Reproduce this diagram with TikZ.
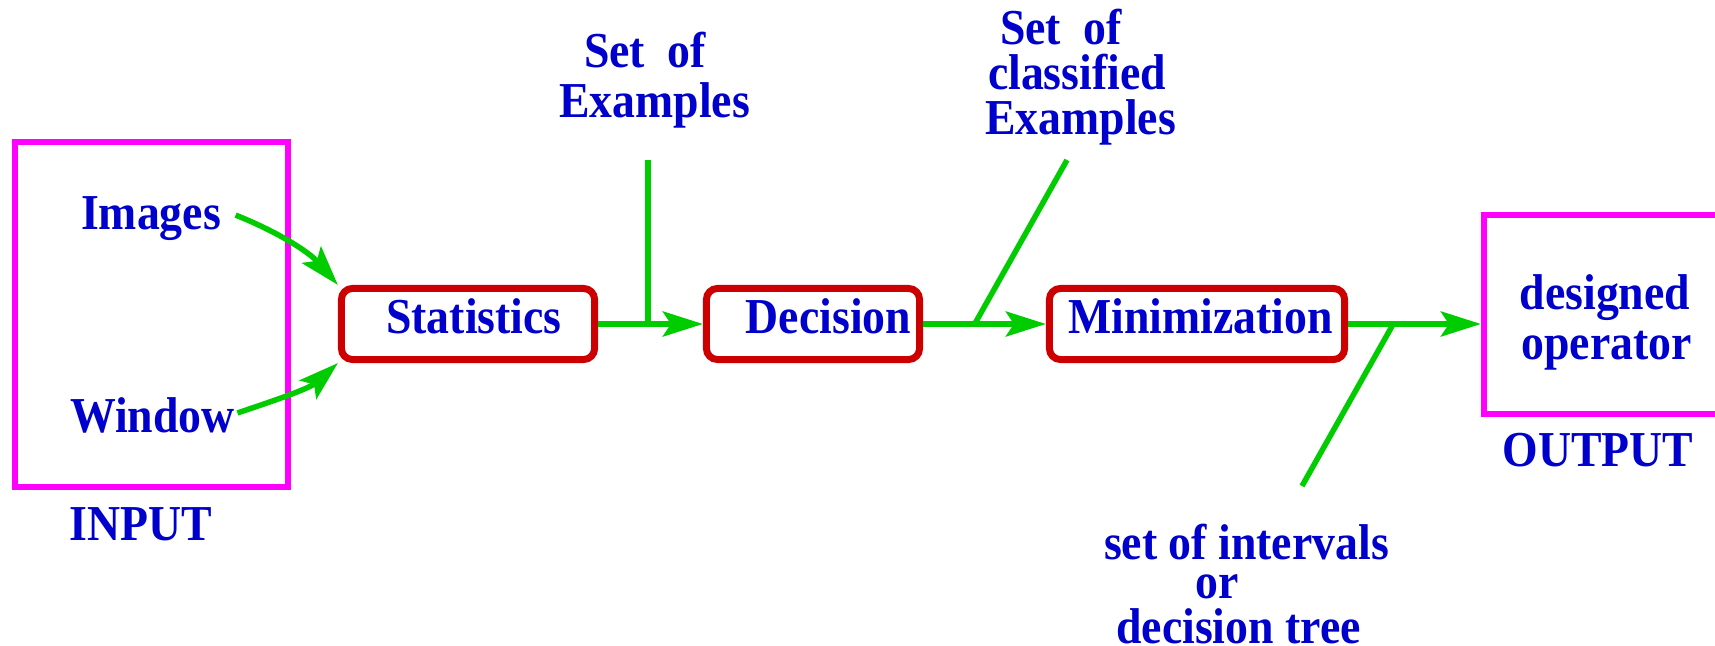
\documentclass[tikz,border=0pt]{standalone}
\usepackage{fontspec}
\setmainfont{Liberation Serif}[BoldFont={Liberation Serif Bold},FakeStretch=0.91]
\usetikzlibrary{arrows.meta,calc}
\definecolor{tblue}{RGB}{0,0,204}
\definecolor{tgreen}{RGB}{0,204,0}
\definecolor{tred}{RGB}{204,0,0}
\definecolor{tmag}{RGB}{255,0,255}
\newcommand\dfont{\fontsize{14.3pt}{16pt}\selectfont\bfseries}
\begin{document}
\begin{tikzpicture}[x=0.01cm,y=-0.01cm,
  lbl/.style={text=tblue,font=\dfont,inner sep=0pt,anchor=base},
  proc/.style={draw=tred,line width=0.07cm,rounded corners=0.11cm,text=tblue,font=\dfont,
    inner sep=0pt,text height=0.33cm,text depth=0.15cm,minimum height=0.71cm},
  io/.style={draw=tmag,line width=0.06cm,inner sep=0pt},
  flow/.style={draw=tgreen,line width=0.055cm,-{Stealth[length=0.4cm,width=0.25cm,inset=0.08cm]}},
  feed/.style={draw=tgreen,line width=0.055cm}]
\useasboundingbox (0,0) rectangle (1715,646);
\clip (0,0) rectangle (1715,646);
% input
\node[io, minimum width=2.73cm, minimum height=3.45cm] (inbox) at (151.5,314.5) {};
\node[lbl] (img) at (151,230) {Images};
\node[lbl] (win) at (152.5,433) {Window};
\node[lbl] (inlbl) at (141,541) {INPUT};
% process boxes
\node[proc, minimum width=2.53cm] (stat) at (468,324) {\hspace*{0.12cm}Statistics};
\node[proc, minimum width=2.13cm] (dec) at (813,324) {\hspace*{0.31cm}Decision};
\node[proc, minimum width=2.95cm] (min) at (1197,324) {\hspace*{0.07cm}Minimization};
% output
\node[io, minimum width=2.46cm, minimum height=1.99cm] (out) at (1607,314.5) {};
\node[lbl] (des) at (1605,310) {designed};
\node[lbl] (op) at (1606.5,360) {operator};
\node[lbl] (outlbl) at (1598,467) {OUTPUT};
% labels
\node[lbl] (ex1a) at (645,68) {Set\ \ of};
\node[lbl] (ex1b) at (654.5,118) {Examples};
\node[lbl] (ex2a) at (1061,45) {Set\ \ of};
\node[lbl] (ex2b) at (1077,90) {classified};
\node[lbl] (ex2c) at (1080.5,135) {Examples};
\node[lbl] (iv1) at (1246.5,560) {set of intervals};
\node[lbl] (iv2) at (1217.5,598) {or};
\node[lbl] (iv3) at (1238.5,643) {decision tree};
% free ends
\coordinate (se) at (648,160);
\coordinate (ce) at (1067,160);
\coordinate (ie) at (1302,486);
% connectors
\draw[flow] ($(img.east)+(14,-4)$) .. controls +(45,18) and +(-28,-32) .. (stat.north west);
\draw[flow] ($(win.east)+(2,-3)$) .. controls +(45,-15) and +(-28,25) .. (stat.south west);
\draw[flow] (stat.east) -- (dec.west);
\draw[flow] (dec.east) -- (min.west);
\draw[flow] (min.east) -- (min.east -| out.west);
\draw[feed] (se) -- (se |- stat.east);
\draw[feed] (ce) -- ($(dec.east)!0.42!(min.west)$);
\draw[feed] (ie) -- ($(min.east)!0.34!(min.east -| out.west)$);
\end{tikzpicture}
\end{document}
